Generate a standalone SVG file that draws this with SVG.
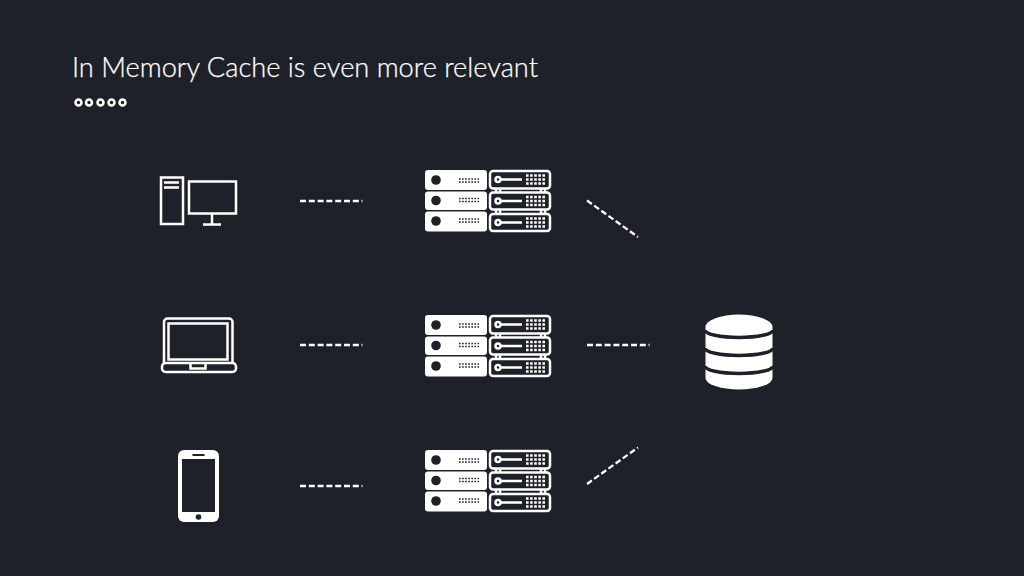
<svg xmlns="http://www.w3.org/2000/svg" width="1024" height="576" viewBox="0 0 1024 576">
<style>
.o{fill:none;stroke:#fff;stroke-width:2.500}
.f{fill:#fff}
.d{fill:#1e2129}
.g{fill:none;stroke:#fff;stroke-width:2.300;stroke-dasharray:6 2.800}
.t{fill:#fff;stroke:#fff;stroke-width:.25;font-family:"Lato","Open Sans",sans-serif;font-weight:300;font-size:27px}
.m{fill:none;stroke:#1e2129;stroke-width:1.600;stroke-dasharray:1.600 1.500}
.m2{fill:none;stroke:#fff;stroke-width:2.600;stroke-dasharray:2.600 1.500}
</style>
<defs>
<g id="srv">
<rect class="f" x="425" y="170" width="62" height="20" rx="3"/>
<rect class="f" x="425" y="191.500" width="62" height="18.500" rx="3"/>
<rect class="f" x="425" y="211.500" width="62" height="20" rx="3"/>
<circle class="d" cx="436" cy="180" r="4.800"/>
<circle class="d" cx="436" cy="200.500" r="4.800"/>
<circle class="d" cx="436" cy="221" r="4.800"/>
<path class="m" d="M459 179H479M459 182H479M459 198.500H479M459 201.500H479M459 219H479M459 222H479"/>
<rect class="o" x="490" y="171" width="60" height="17.500" rx="3"/>
<rect class="o" x="490" y="192.500" width="60" height="17" rx="3"/>
<rect class="o" x="490" y="214" width="60" height="17" rx="3"/>
<path class="o" d="M496 188.500V192.500M500 188.500V192.500M541 188.500V192.500M545 188.500V192.500M496 209.500V214M500 209.500V214M541 209.500V214M545 209.500V214"/>
<circle class="o" cx="498" cy="179.500" r="2.500"/>
<circle class="o" cx="498" cy="201" r="2.500"/>
<circle class="o" cx="498" cy="222.500" r="2.500"/>
<path class="o" d="M501 179.500H522M501 201H522M501 222.500H522"/>
<path class="m2" d="M526 175.500H546M526 179.500H546M526 183.500H546M526 197H546M526 201H546M526 205H546M526 218.500H546M526 222.500H546M526 226.500H546"/>
</g>
</defs>
<rect width="1024" height="576" fill="#1e2129"/>
<g id="title">
<text class="t" x="72" y="77" textLength="466" lengthAdjust="spacingAndGlyphs">In Memory Cache is even more relevant</text>
<circle class="o" cx="78.500" cy="102.500" r="3"/>
<circle class="o" cx="89" cy="102.500" r="3"/>
<circle class="o" cx="100.500" cy="102.500" r="3"/>
<circle class="o" cx="111.500" cy="102.500" r="3"/>
<circle class="o" cx="122.500" cy="102.500" r="3"/>
</g>
<g id="desktop">
<rect class="o" x="161" y="177.500" width="22" height="46.500"/>
<path class="o" d="M164 182.500H179M164 187.500H179"/>
<rect class="o" x="189" y="181.500" width="47" height="32"/>
<path class="o" d="M212 213.500V224M203 224.500H221"/>
</g>
<g id="laptop">
<path class="o" d="M164 363V322a3.500 3.500 0 0 1 3.500-3.500H229a3.500 3.500 0 0 1 3.500 3.500V363"/>
<rect class="o" x="168.500" y="323.500" width="59" height="36"/>
<rect class="o" x="162" y="363" width="74" height="9" rx="3.500"/>
<path class="o" d="M190.500 363.500V368.500H205.500V363.500"/>
</g>
<g id="phone">
<rect class="f" x="178" y="450" width="41" height="72" rx="6"/>
<rect class="d" x="182" y="459" width="33" height="53"/>
<rect class="d" x="192.500" y="454" width="12" height="2"/>
<circle class="d" cx="198.500" cy="517" r="2.800"/>
</g>
<g id="server1"><use href="#srv"/></g>
<g id="server2"><use href="#srv" y="145"/></g>
<g id="server3"><use href="#srv" y="280"/></g>
<g id="database">
<path class="f" d="M705.500 327A33.500 12.500 0 0 1 772.500 327V378A33.500 11.500 0 0 1 705.500 378Z"/>
<path fill="none" stroke="#1e2129" stroke-width="3.500" d="M705 330A34 7.500 0 0 0 773 330M705 348A34 7.500 0 0 0 773 348M705 366A34 7.500 0 0 0 773 366"/>
</g>
<g id="connectors">
<path class="g" d="M300 201H362.500"/>
<path class="g" d="M300 345H362.500"/>
<path class="g" d="M300 486H362.500"/>
<path class="g" d="M587 345H649.500"/>
<path class="g" d="M587 200.500L638 237"/>
<path class="g" d="M587 484L638 447.500"/>
</g>
</svg>
